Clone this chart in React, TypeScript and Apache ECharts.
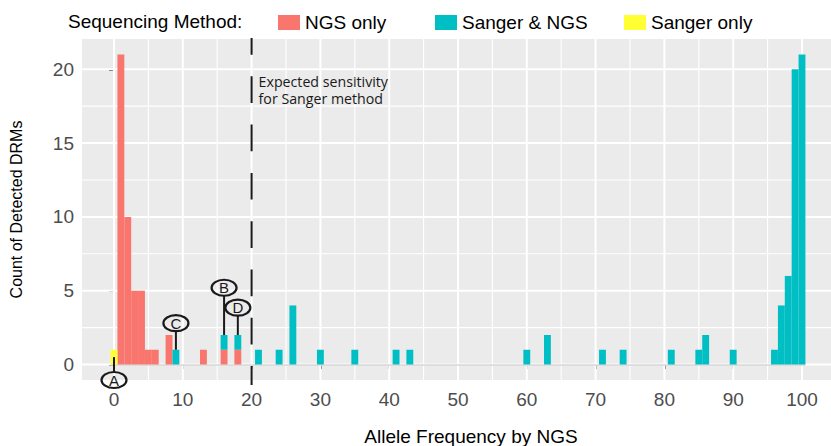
import React, { useEffect, useRef } from "react";
import * as echarts from "echarts";

// ---- axis setup ----
const X_TICKS = [0, 10, 20, 30, 40, 50, 60, 70, 80, 90, 100];
const Y_TICKS = [0, 5, 10, 15, 20];
const X_RANGE = [-4.65, 104.65];
const Y_RANGE = [-1.05, 22.05];
const BIN_WIDTH = 1;

// ---- histogram counts (bin centre -> count) ----
const NGS_ONLY_BINS = [1, 2, 3, 4, 5, 6, 8, 13, 16, 18];
const NGS_ONLY_COUNTS = [21, 10, 5, 5, 1, 1, 2, 1, 1, 1];
const SANGER_NGS_BINS = [9, 16, 18, 21, 24, 26, 30, 35, 41, 43, 60, 63, 71, 74, 81, 85, 86, 90, 96, 97, 98, 99, 100];
const SANGER_NGS_COUNTS = [1, 1, 1, 1, 1, 4, 1, 1, 1, 1, 1, 2, 1, 1, 1, 1, 2, 1, 1, 4, 6, 20, 21];
const SANGER_ONLY_BINS = [0];
const SANGER_ONLY_COUNTS = [1];

const SERIES_NAMES = ["NGS only", "Sanger & NGS", "Sanger only"];
const SERIES_COLORS = ["#F8766D", "#00BFC4", "#FFFF33"];

// ---- annotations ----
const SENSITIVITY_THRESHOLD = 20;
const SENSITIVITY_LINES = ["Expected sensitivity", "for Sanger method"];
const SENSITIVITY_LINE_Y = [19.16, 17.99];
const ANNOT_LETTERS = ["A", "B", "C", "D"];
const ANNOT_X = [0, 16, 9, 18];
const ANNOT_LABEL_Y = [-1.05, 5.2, 2.8, 3.85];
const ANNOT_TARGET_Y = [0.5, 2, 1, 2];

const FONT = '"Liberation Sans", Arial, Helvetica, sans-serif';

function buildStacks() {
  const base = new Map<number, number>();
  const stack = (bins: number[], counts: number[]) =>
    bins.map((b, i) => {
      const lo = base.get(b) ?? 0;
      const hi = lo + counts[i];
      base.set(b, hi);
      return [b, lo, hi];
    });
  return [
    stack(NGS_ONLY_BINS, NGS_ONLY_COUNTS),
    stack(SANGER_NGS_BINS, SANGER_NGS_COUNTS),
    stack(SANGER_ONLY_BINS, SANGER_ONLY_COUNTS),
  ];
}

function midpoints(arr: number[]) {
  const out: number[] = [];
  for (let i = 0; i < arr.length - 1; i++) out.push((arr[i] + arr[i + 1]) / 2);
  return out;
}

export default function App() {
  const ref = useRef<HTMLDivElement>(null);

  useEffect(() => {
    document.body.style.margin = "0";
    if (!ref.current) return;
    const chart = echarts.init(ref.current, undefined, { renderer: "svg" });

    const stacks = buildStacks();
    const allBins = [...NGS_ONLY_BINS, ...SANGER_NGS_BINS, ...SANGER_ONLY_BINS];
    const binMin = Math.min(...allBins) - BIN_WIDTH / 2;
    const binMax = Math.max(...allBins) + BIN_WIDTH / 2;

    // gridline data: [value, horizontal(1)/vertical(0), major(1)/minor(0)]
    const gridData: number[][] = [];
    midpoints(X_TICKS).forEach((v) => gridData.push([v, 0, 0]));
    midpoints(Y_TICKS).forEach((v) => gridData.push([v, 1, 0]));
    X_TICKS.forEach((v) => gridData.push([v, 0, 1]));
    Y_TICKS.forEach((v) => gridData.push([v, 1, 1]));

    const barSeries = stacks.map((data, si) => ({
      name: SERIES_NAMES[si],
      type: "custom",
      clip: false,
      z: 3,
      itemStyle: { color: SERIES_COLORS[si] },
      encode: { x: 0, y: 2 },
      data,
      renderItem: (params: any, api: any) => {
        const x = api.value(0);
        const lo = api.value(1);
        const hi = api.value(2);
        const p0 = api.coord([x - BIN_WIDTH / 2, hi]);
        const p1 = api.coord([x + BIN_WIDTH / 2, lo]);
        return {
          type: "rect",
          shape: { x: p0[0], y: p0[1], width: p1[0] - p0[0], height: p1[1] - p0[1] },
          style: { fill: SERIES_COLORS[si] },
        };
      },
    }));

    const option: any = {
      animation: false,
      grid: {
        left: 82,
        top: 39,
        width: (X_RANGE[1] - X_RANGE[0]) * 6.88,
        height: 341,
        show: true,
        backgroundColor: "#EBEBEB",
        borderWidth: 0,
        containLabel: false,
        outerBoundsMode: "none",
      },
      xAxis: {
        type: "value",
        min: X_RANGE[0],
        max: X_RANGE[1],
        name: "Allele Frequency by NGS",
        nameLocation: "middle",
        nameGap: 47,
        nameTextStyle: { fontSize: 19, color: "#000", fontFamily: FONT, padding: [0, 0, 0, 26] },
        axisLine: { show: false },
        splitLine: { show: false },
        axisTick: { show: true, customValues: X_TICKS, length: 4.5, lineStyle: { color: "#333", width: 1.5 } },
        axisLabel: { customValues: X_TICKS, fontSize: 19, color: "#4D4D4D", fontFamily: FONT, margin: 10 },
      },
      yAxis: {
        type: "value",
        min: Y_RANGE[0],
        max: Y_RANGE[1],
        name: "Count of Detected DRMs",
        nameLocation: "middle",
        nameRotate: 90,
        nameGap: 58,
        nameTextStyle: { fontSize: 16, color: "#000", fontFamily: FONT },
        axisLine: { show: false },
        splitLine: { show: false },
        axisTick: { show: true, customValues: Y_TICKS, length: 5, lineStyle: { color: "#333", width: 1.5 } },
        axisLabel: { customValues: Y_TICKS, fontSize: 19, color: "#4D4D4D", fontFamily: FONT, margin: 8 },
      },
      legend: SERIES_NAMES.map((name, i) => ({
        data: [{ name, icon: "rect", itemStyle: { color: SERIES_COLORS[i] } }],
        left: [278, 435, 624][i],
        top: 13,
        padding: 0,
        itemWidth: 22,
        itemHeight: 15,
        selectedMode: false,
        textStyle: { fontSize: 19, color: "#000", fontFamily: FONT },
      })),
      graphic: [
        {
          type: "text",
          left: 68,
          top: 12,
          style: { text: "Sequencing Method:", fontSize: 19, fill: "#000", fontFamily: FONT },
        },
      ],
      series: [
        {
          name: "gridlines",
          type: "custom",
          z: 1,
          silent: true,
          clip: false,
          data: gridData,
          renderItem: (params: any, api: any) => {
            const cs = params.coordSys;
            const v = api.value(0);
            const horiz = api.value(1) === 1;
            const major = api.value(2) === 1;
            const w = major ? 2 : 1.1;
            if (horiz) {
              const y = api.coord([0, v])[1];
              return {
                type: "line",
                shape: { x1: cs.x, y1: y, x2: cs.x + cs.width, y2: y },
                style: { stroke: "#FFFFFF", lineWidth: w },
              };
            }
            const x = api.coord([v, 0])[0];
            return {
              type: "line",
              shape: { x1: x, y1: cs.y, x2: x, y2: cs.y + cs.height },
              style: { stroke: "#FFFFFF", lineWidth: w },
            };
          },
        },
        {
          name: "baseline",
          type: "custom",
          z: 2,
          silent: true,
          data: [[binMin, 0, binMax]],
          renderItem: (params: any, api: any) => {
            const a = api.coord([api.value(0), api.value(1)]);
            const b = api.coord([api.value(2), api.value(1)]);
            return {
              type: "line",
              shape: { x1: a[0], y1: a[1] + 0.5, x2: b[0], y2: b[1] + 0.5 },
              style: { stroke: "#C4C4C4", lineWidth: 1.2 },
            };
          },
        },
        ...barSeries,
        {
          name: "threshold",
          type: "custom",
          z: 4,
          silent: true,
          clip: false,
          data: [[SENSITIVITY_THRESHOLD, 0]],
          renderItem: (params: any, api: any) => {
            const cs = params.coordSys;
            const x = api.coord([api.value(0), 0])[0];
            return {
              type: "line",
              shape: { x1: x, y1: cs.y - 1, x2: x, y2: cs.y + cs.height + 5 },
              style: { stroke: "#1A1A1A", lineWidth: 2, lineDash: [26.7, 21.6], lineDashOffset: 10 },
            };
          },
        },
        {
          name: "thresholdText",
          type: "custom",
          z: 4,
          silent: true,
          clip: false,
          data: SENSITIVITY_LINE_Y.map((y) => [SENSITIVITY_THRESHOLD, y]),
          renderItem: (params: any, api: any) => {
            const p = api.coord([api.value(0), api.value(1)]);
            return {
              type: "text",
              x: p[0] + 7,
              y: p[1],
              style: {
                text: SENSITIVITY_LINES[params.dataIndex],
                fontSize: 14.2,
                fill: "#1A1A1A",
                fontFamily: '"Open Sans", "Noto Sans", sans-serif',
                align: "left",
                verticalAlign: "middle",
              },
            };
          },
        },
        {
          name: "annotations",
          type: "custom",
          z: 5,
          silent: true,
          clip: false,
          data: ANNOT_X.map((x, i) => [x, ANNOT_LABEL_Y[i], ANNOT_TARGET_Y[i]]),
          renderItem: (params: any, api: any) => {
            const i = params.dataIndex;
            const c = api.coord([api.value(0), api.value(1)]);
            const t = api.coord([api.value(0), api.value(2)]);
            const rx = 12.5;
            const ry = 8;
            const startY = t[1] < c[1] ? c[1] - ry : c[1] + ry;
            return {
              type: "group",
              children: [
                {
                  type: "line",
                  shape: { x1: c[0], y1: startY, x2: t[0], y2: t[1] },
                  style: { stroke: "#1A1A1A", lineWidth: 2 },
                },
                {
                  type: "ellipse",
                  shape: { cx: c[0], cy: c[1], rx, ry },
                  style: { fill: "rgba(0,0,0,0)", stroke: "#1A1A1A", lineWidth: 2.2 },
                },
                {
                  type: "text",
                  x: c[0],
                  y: c[1],
                  style: {
                    text: ANNOT_LETTERS[i],
                    fontSize: 15,
                    fill: "#1A1A1A",
                    fontFamily: FONT,
                    align: "center",
                    verticalAlign: "middle",
                  },
                },
              ],
            };
          },
        },
      ],
    };

    chart.setOption(option);
    return () => chart.dispose();
  }, []);

  return <div ref={ref} style={{ width: 831, height: 446 }} />;
}
